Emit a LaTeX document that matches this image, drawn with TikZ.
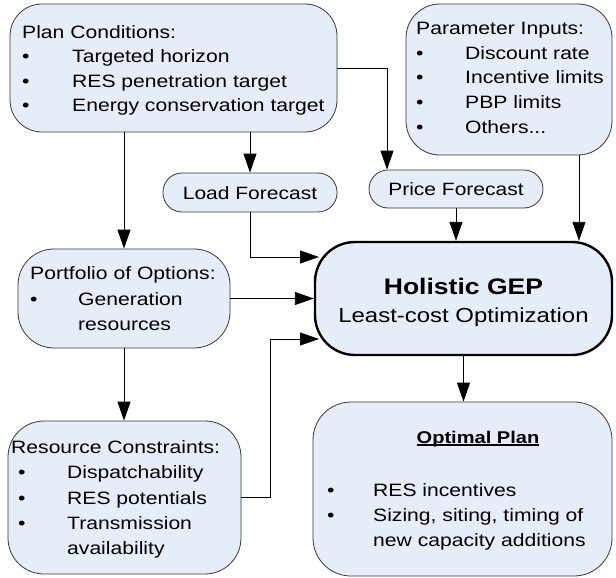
\documentclass[tikz,border=0pt]{standalone}
\usepackage{fontspec}
\setmainfont{Liberation Sans}[FakeStretch=1.18]
\usetikzlibrary{arrows.meta}
\definecolor{boxfill}{RGB}{231,237,248}
\definecolor{boxline}{RGB}{55,55,55}
\newcommand{\bitem}[1]{\makebox[#1][l]{\textbullet}}
\newcommand{\uline}[1]{\setbox0\hbox{#1}\rlap{\rule[-2.8pt]{\wd0}{1.4pt}}\box0}
\begin{document}
\begin{tikzpicture}[x=1pt,y=-1pt,
  box/.style={draw=boxline,fill=boxfill,line width=0.8pt,rectangle,inner sep=0pt},
  txt/.style={inner sep=0pt,anchor=base west,text=black},
  arr/.style={draw=black,line width=0.9pt,-{Triangle[length=19pt,width=13pt]}},
  ]
\useasboundingbox (0,0) rectangle (616,578);
% boxes
\node[box,minimum width=327,minimum height=128,rounded corners=32] (plan) at (173.5,68) {};
\node[box,minimum width=206,minimum height=151,rounded corners=34] (param) at (509,79.5) {};
\node[box,minimum width=174,minimum height=39,rounded corners=19] (load) at (250,192.5) {};
\node[box,minimum width=174,minimum height=38,rounded corners=19] (price) at (456,189) {};
\node[box,minimum width=212,minimum height=99,rounded corners=36] (portfolio) at (124,298.5) {};
\node[box,draw=black,line width=2.4pt,minimum width=297,minimum height=113,rounded corners=40] (hol) at (463.5,298.5) {};
\node[box,minimum width=233,minimum height=153,rounded corners=36] (resource) at (124.5,497.5) {};
\node[box,minimum width=299,minimum height=174,rounded corners=38] (optimal) at (462.5,489) {};
% texts
\node[txt,font=\fontsize{17.9}{24.3}\selectfont] (plantxt) at (22,38.5) {\begin{tabular}[t]{@{}l@{}}
Plan Conditions:\\
\bitem{50pt}Targeted horizon\\
\bitem{50pt}RES penetration target\\
\bitem{50pt}Energy conservation target
\end{tabular}};
\node[txt,font=\fontsize{17.9}{24.75}\selectfont] (paramtxt) at (416,34.5) {\begin{tabular}[t]{@{}l@{}}
Parameter Inputs:\\
\bitem{49pt}Discount rate\\
\bitem{49pt}Incentive limits\\
\bitem{49pt}PBP limits\\
\bitem{49pt}Others...
\end{tabular}};
\node[inner sep=0pt,anchor=base,font=\fontsize{17.8}{20}\selectfont] (loadtxt) at (250,199) {Load Forecast};
\node[inner sep=0pt,anchor=base,font=\fontsize{17.8}{20}\selectfont] (pricetxt) at (456,195.5) {Price Forecast};
\node[txt,font=\fontsize{17.9}{25.5}\selectfont] (porttxt) at (30,279.5) {\begin{tabular}[t]{@{}l@{}}
Portfolio of Options:\\
\bitem{48pt}Generation\\
\hspace*{48pt}resources
\end{tabular}};
\node[inner sep=0pt,anchor=base,font=\bfseries\fontsize{22.5}{26}\selectfont] (holtxt1) at (463.5,294.5) {Holistic GEP};
\node[inner sep=0pt,anchor=base,font=\fontsize{20.3}{24}\selectfont] (holtxt2) at (463.5,322.5) {Least-cost Optimization};
\node[txt,font=\fontsize{17.9}{25.25}\selectfont] (restxt) at (11,453.5) {\begin{tabular}[t]{@{}l@{}}
Resource Constraints:\\
\hspace*{7pt}\bitem{49pt}Dispatchability\\
\hspace*{7pt}\bitem{49pt}RES potentials\\
\hspace*{7pt}\bitem{49pt}Transmission\\
\hspace*{56pt}availability
\end{tabular}};
\node[inner sep=0pt,anchor=base,font=\bfseries\fontsize{17}{20}\selectfont] (opttitle) at (478,443) {\uline{Optimal Plan}};
\node[txt,font=\fontsize{17.9}{25}\selectfont] (opttxt) at (327,496.5) {\begin{tabular}[t]{@{}l@{}}
\bitem{46pt}RES incentives\\
\bitem{46pt}Sizing, siting, timing of\\
\hspace*{46pt}new capacity additions
\end{tabular}};
% helper coordinates
\coordinate (pt) at (387,0);
\coordinate (px) at (579,0);
\coordinate (h1) at (319,257);
\coordinate (h3) at (319,339);
\coordinate (rc) at (270,0);
% connectors
\draw[arr] (portfolio.north |- plan.south) -- (portfolio.north);
\draw[arr] (load.north |- plan.south) -- (load.north);
\draw[arr] (plan.east) -| (pt |- price.north);
\draw[arr] (param.south -| px) -- (hol.north -| px);
\draw[arr] (price.south) -- (price.south |- hol.north);
\draw[arr] (load.south) |- (h1);
\draw[arr] (portfolio.east) -- (hol.west);
\draw[arr] (resource.east) -| (rc |- h3) -- (h3);
\draw[arr] (portfolio.south) -- (portfolio.south |- resource.north);
\draw[arr] (hol.south) -- (hol.south |- optimal.north);
\end{tikzpicture}
\end{document}
